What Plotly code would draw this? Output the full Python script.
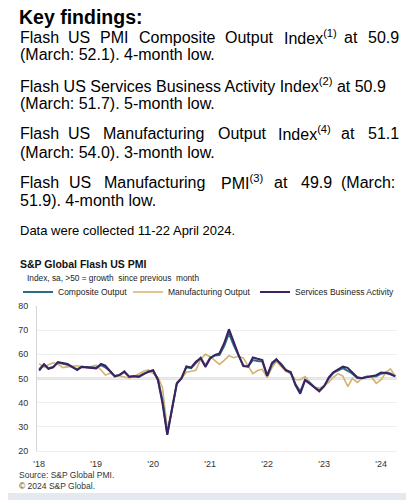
import pandas as pd
import plotly.graph_objects as go

# ---------------- data ----------------
months = pd.date_range("2018-01-01", "2024-04-01", freq="MS")

composite = [
    53.8, 55.8, 54.2, 54.9, 56.6, 56.2, 55.7, 54.7, 53.9, 54.9, 54.7, 54.4,
    54.4, 55.5, 54.6, 53.0, 50.9, 51.5, 52.6, 50.7, 51.0, 50.9, 52.0, 52.7,
    53.3, 49.6, 40.9, 27.0, 37.0, 47.9, 50.3, 54.6, 54.3, 56.3, 58.6, 55.3,
    58.7, 59.5, 59.7, 63.5, 68.7, 63.7, 59.9, 55.4, 55.0, 57.6, 57.2, 57.0,
    51.1, 55.9, 57.7, 56.0, 53.6, 52.3, 47.7, 44.6, 49.5, 48.2, 46.4, 45.0,
    46.8, 50.1, 52.3, 53.4, 54.3, 53.2, 52.0, 50.2, 50.2, 50.7, 50.7, 50.9,
    52.0, 52.5, 52.1, 50.9,
]
manufacturing_output = [
    56.2, 54.6, 55.7, 56.5, 56.0, 54.5, 54.8, 55.0, 55.3, 55.0, 54.6, 55.0,
    55.5, 53.5, 51.4, 52.2, 51.3, 51.0, 50.5, 50.2, 50.8, 52.0, 53.0, 53.6,
    52.2, 50.5, 46.3, 29.0, 36.5, 48.5, 50.0, 52.6, 53.0, 53.4, 58.0, 60.0,
    59.0, 57.5, 55.8, 57.5, 59.4, 58.6, 59.2, 58.5, 55.0, 52.0, 53.3, 53.8,
    50.4, 54.5, 57.0, 55.0, 53.0, 52.0, 49.6, 49.5, 50.8, 48.5, 46.5, 46.0,
    47.0, 48.5, 50.5, 52.0, 51.0, 46.7, 50.0, 48.4, 50.0, 51.0, 50.5, 48.0,
    49.5, 52.5, 54.0, 51.1,
]
services = [
    53.3, 55.9, 54.0, 54.6, 56.8, 56.5, 56.0, 54.8, 53.5, 54.8, 54.7, 54.4,
    54.2, 56.0, 55.3, 53.0, 50.9, 51.5, 53.0, 50.7, 50.9, 50.6, 51.6, 52.8,
    53.4, 49.4, 39.8, 26.7, 37.5, 47.9, 50.0, 55.0, 54.6, 56.9, 58.4, 54.8,
    58.3, 59.8, 60.4, 64.7, 70.4, 64.6, 59.9, 55.1, 54.9, 58.7, 58.0, 57.6,
    51.2, 56.5, 58.0, 55.6, 53.4, 52.7, 47.3, 43.7, 49.3, 47.8, 46.2, 44.7,
    46.8, 50.6, 52.6, 53.6, 54.9, 54.4, 52.3, 50.5, 50.1, 50.6, 50.8, 51.4,
    52.5, 52.3, 51.7, 50.9,
]

# ---------------- layout helpers (reference pixel -> paper) ----------------
# the page body has an 8px margin, so the figure is drawn 8px in from the corner
OFF = 8
W, H = 414 - OFF, 500 - OFF
PL, PR, PT, PB = 37, 397, 306, 451          # plot box in reference pixels
ML, MR, MT, MB = PL - OFF, 414 - PR, PT - OFF, 500 - PB
PW, PH = PR - PL, PB - PT


def px(x):
    return (x - PL) / PW


def py(y):
    return (PB - y) / PH


FONT = "Liberation Sans, Arial, sans-serif"

fig = go.Figure()
fig.add_trace(go.Scatter(x=months, y=manufacturing_output, mode="lines",
                         name="Manufacturing Output", legend="legend2",
                         line=dict(color="#d6b170", width=1.6)))
fig.add_trace(go.Scatter(x=months, y=composite, mode="lines",
                         name="Composite Output", legend="legend",
                         line=dict(color="#2a6b86", width=2)))
fig.add_trace(go.Scatter(x=months, y=services, mode="lines",
                         name="Services Business Activity", legend="legend3",
                         line=dict(color="#3d2160", width=2)))

ann = []


def text(x, y, s, size, bold=False, color="#000", anchor="left"):
    if bold:
        s = "<b>" + s + "</b>"
    ann.append(dict(x=px(x), y=py(y), xref="paper", yref="paper", text=s,
                    showarrow=False, xanchor=anchor, yanchor="middle",
                    borderpad=0,
                    font=dict(family=FONT, size=size, color=color)))


text(18, 16.5, "Key findings:", 19.5, bold=True)

# justified first lines: word positions
just_lines = [
    (37, [(19, "Flash"), (67, "US"), (99, "PMI"), (138, "Composite"), (224, "Output"),
          (283, "Index<sup>(1)</sup>"), (343, "at"), (367, "50.9")]),
    (133, [(19, "Flash"), (67, "US"), (102, "Manufacturing"), (217, "Output"),
           (277, "Index<sup>(4)</sup>"), (340, "at"), (367, "51.1")]),
    (182, [(19, "Flash"), (68, "US"), (103, "Manufacturing"), (220, "PMI<sup>(3)</sup>"),
           (273, "at"), (300, "49.9"), (340, "(March:")]),
]
for yy, words in just_lines:
    for xx, w in words:
        text(xx, yy, w, 16)

text(19, 85, "Flash US Services Business Activity Index<sup>(2)</sup> at 50.9", 16)
text(19, 55, "(March: 52.1). 4-month low.", 16)
text(19, 103, "(March: 51.7). 5-month low.", 16)
text(19, 152, "(March: 54.0). 3-month low.", 16)
text(19, 200, "51.9). 4-month low.", 16)
text(19, 230, "Data were collected 11-22 April 2024.", 13)

text(19, 264, "S&P Global Flash US PMI", 10.5, bold=True, color="#111")
text(26, 278, "Index, sa, >50 = growth  since previous  month", 8.3, color="#222")
text(18, 475, "Source: S&P Global PMI.", 8.5, color="#333")
text(18, 486, "© 2024 S&P Global.", 8.5, color="#333")


def legend_at(x_ref):
    return dict(orientation="h", xref="container", yref="container",
                x=(x_ref - OFF) / W, y=1 - (292 - OFF) / H,
                xanchor="left", yanchor="middle",
                font=dict(family=FONT, size=8.5, color="#222"),
                itemwidth=30, bgcolor="rgba(0,0,0,0)")


fig.update_layout(
    width=W, height=H,
    margin=dict(l=ML, r=MR, t=MT, b=MB, pad=0, autoexpand=False),
    paper_bgcolor="white", plot_bgcolor="white",
    font=dict(family=FONT, size=9, color="#333"),
    annotations=ann,
    showlegend=True,
    legend=legend_at(18),
    legend2=legend_at(128),
    legend3=legend_at(255),
    shapes=[
        dict(type="line", xref="paper", yref="y", x0=0, x1=1, y0=50, y1=50,
             line=dict(color="#c4c4c4", width=2), layer="below"),
        dict(type="rect", xref="paper", yref="paper", x0=px(0), x1=px(414),
             y0=py(500), y1=py(493), fillcolor="#e4e9ef", line=dict(width=0)),
    ],
    xaxis=dict(
        range=["2017-12-18", "2024-04-12"],
        tick0="2018-01-01", dtick="M12", tickformat="'%y",
        showgrid=False, showline=True, linecolor="#eeeeee", linewidth=1,
        ticks="", tickfont=dict(size=9, color="#333"), ticklabelstandoff=4,
    ),
    yaxis=dict(
        range=[20, 80], dtick=10, tick0=20,
        showgrid=True, gridcolor="#efefef", gridwidth=1,
        showline=True, linecolor="#d6d6d6", linewidth=1,
        zeroline=False, ticks="", tickfont=dict(size=9, color="#333"),
        ticklabelstandoff=6,
    ),
)

fig.write_html("out.html")
